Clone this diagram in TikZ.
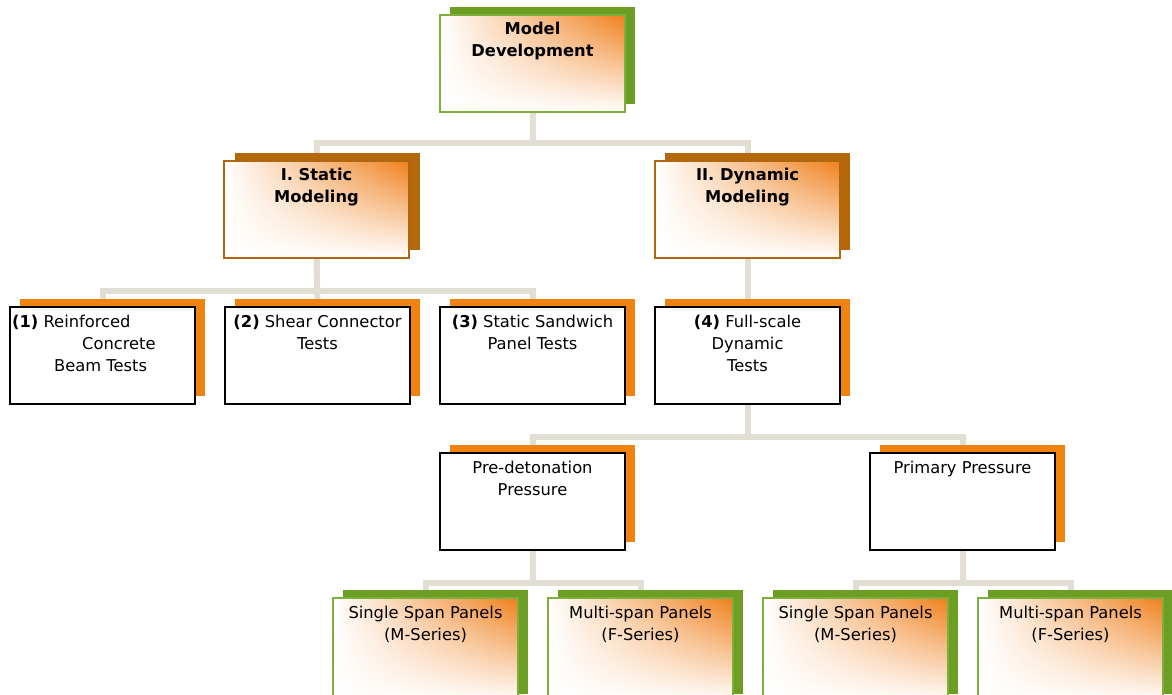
\documentclass[tikz,border=0pt]{standalone}
\usepackage{fontspec}
\setmainfont{DejaVu Sans}
\usetikzlibrary{shadings,backgrounds}
\definecolor{sgreen}{HTML}{6B9E23}
\definecolor{bgreen}{HTML}{7DAF3C}
\definecolor{sbrown}{HTML}{B4680A}
\definecolor{bbrown}{HTML}{B0660E}
\definecolor{sorange}{HTML}{F0820F}
\definecolor{gorange}{HTML}{EF7F1A}
\definecolor{connc}{HTML}{E2DED4}
\tikzset{
 boxbase/.style={rectangle, minimum width=185pt, minimum height=97pt, inner sep=0pt, outer sep=0pt, anchor=north west},
 shgreen/.style={boxbase, fill=sgreen},
 shbrown/.style={boxbase, fill=sbrown},
 shorange/.style={boxbase, fill=sorange},
 grad/.style={boxbase, shade, upper right=gorange, upper left=white, lower left=white, lower right=white, line width=2pt},
 gbox/.style={grad, draw=bgreen},
 bbox/.style={grad, draw=bbrown},
 kbox/.style={boxbase, fill=white, draw=black, line width=2pt},
 tall/.style={minimum height=104pt},
 conn/.style={draw=connc, line width=6pt},
 txt/.style={font=\fontsize{16.3}{22}\selectfont, align=center, anchor=base, inner sep=0pt},
}
\begin{document}
\begin{tikzpicture}[x=1pt,y=-1pt]
\useasboundingbox (0,0) rectangle (1172,695);
% level 0
\node[shgreen] (md-s) at (450,7) {};
\node[gbox] (md) at (440,15) {};
% level 1
\node[shbrown] (sm-s) at (235,153) {};
\node[bbox] (sm) at (224,161) {};
\node[shbrown] (dm-s) at (665,153) {};
\node[bbox] (dm) at (655,161) {};
% level 2
\node[shorange] (b1-s) at (20,299) {};
\node[kbox] (b1) at (10,307) {};
\node[shorange] (b2-s) at (235,299) {};
\node[kbox] (b2) at (225,307) {};
\node[shorange] (b3-s) at (450,299) {};
\node[kbox] (b3) at (440,307) {};
\node[shorange] (b4-s) at (665,299) {};
\node[kbox] (b4) at (655,307) {};
% level 3
\node[shorange] (pd-s) at (450,445) {};
\node[kbox] (pd) at (440,453) {};
\node[shorange] (pp-s) at (880,445) {};
\node[kbox] (pp) at (870,453) {};
% level 4
\node[shgreen, tall] (s1-s) at (343,590) {};
\node[gbox, tall] (s1) at (333,598) {};
\node[shgreen, tall] (m1-s) at (558,590) {};
\node[gbox, tall] (m1) at (548,598) {};
\node[shgreen, tall] (s2-s) at (773,590) {};
\node[gbox, tall] (s2) at (763,598) {};
\node[shgreen, tall] (m2-s) at (988,590) {};
\node[gbox, tall] (m2) at (978,598) {};
% connectors
\begin{scope}[on background layer]
\draw[conn] (md.south) -- ++(0,31) -| (sm.north);
\draw[conn] (md.south) -- ++(0,31) -| (dm.north);
\draw[conn] (sm.south) -- ++(0,33) -| (b1.north);
\draw[conn] (sm.south) -- ++(0,33) -| (b3.north);
\draw[conn] (sm.south) -- (b2.north);
\draw[conn] (dm.south) -- (b4.north);
\draw[conn] (b4.south) -- ++(0,33) -| (pd.north);
\draw[conn] (b4.south) -- ++(0,33) -| (pp.north);
\draw[conn] (pd.south) -- ++(0,33) -| (s1.north);
\draw[conn] (pd.south) -- ++(0,33) -| (m1.north);
\draw[conn] (pp.south) -- ++(0,33) -| (s2.north);
\draw[conn] (pp.south) -- ++(0,33) -| (m2.north);
\end{scope}
% texts (anchor base = baseline of the last line)
\node[txt] (t-md) at ([yshift=-42pt]md.north) {\textbf{Model}\\\textbf{Development}};
\node[txt] (t-sm) at ([yshift=-42pt]sm.north) {\textbf{I. Static}\\\textbf{Modeling}};
\node[txt] (t-dm) at ([yshift=-42pt]dm.north) {\textbf{II. Dynamic}\\\textbf{Modeling}};
\node[txt, align=left, anchor=base west] (t-b1) at ([xshift=2pt,yshift=-64pt]b1.north west) {\textbf{(1)} Reinforced\\\hspace*{70pt}Concrete\\\hspace*{42pt}Beam Tests};
\node[txt] (t-b2) at ([yshift=-42pt]b2.north) {\textbf{(2)} Shear Connector\\Tests};
\node[txt] (t-b3) at ([yshift=-42pt]b3.north) {\textbf{(3)} Static Sandwich\\Panel Tests};
\node[txt] (t-b4) at ([yshift=-64pt]b4.north) {\textbf{(4)} Full-scale\\Dynamic\\Tests};
\node[txt] (t-pd) at ([yshift=-42pt]pd.north) {Pre-detonation\\Pressure};
\node[txt] (t-pp) at ([yshift=-20pt]pp.north) {Primary Pressure};
\node[txt] (t-s1) at ([yshift=-42pt]s1.north) {Single Span Panels\\(M-Series)};
\node[txt] (t-m1) at ([yshift=-42pt]m1.north) {Multi-span Panels\\(F-Series)};
\node[txt] (t-s2) at ([yshift=-42pt]s2.north) {Single Span Panels\\(M-Series)};
\node[txt] (t-m2) at ([yshift=-42pt]m2.north) {Multi-span Panels\\(F-Series)};
\end{tikzpicture}
\end{document}
